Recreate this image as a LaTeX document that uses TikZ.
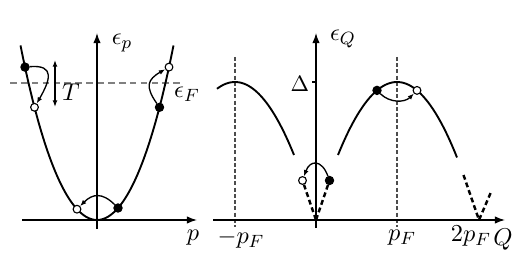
\documentclass[tikz,border=0pt]{standalone}
\usepackage{amsmath}
\usepackage{tikz}
\usetikzlibrary{arrows.meta,positioning}
\usepackage{xcolor}
\begin{document}
\begin{tikzpicture}[x=0.45pt, y=0.45pt, font=\fontsize{11}{13}\selectfont,
  axis/.style={-{Latex[length=4.6pt,width=3.4pt]}, line width=0.6pt},
  band/.style={line width=0.85pt},
  full/.style={circle, draw, fill=black, line width=0.5pt, inner sep=0pt, minimum size=3.7pt},
  empty/.style={circle, draw, fill=white, line width=0.5pt, inner sep=0pt, minimum size=3.5pt},
  hop/.style={-{Latex[length=2.8pt,width=2.2pt]}, line width=0.6pt},
  sound/.style={line width=1.1pt, dash pattern=on 2.2pt off 1.4pt},
  guide/.style={black!70, line width=0.5pt, dash pattern=on 1.8pt off 1pt}]
\useasboundingbox (0,0) rectangle (521,255);
% pixel grid of the reference, origin bottom left
\coordinate (O1) at (97,35); \coordinate (O2) at (316,35);
% left panel: quasiparticle band
\draw[gray, line width=0.5pt, dash pattern=on 3pt off 1.9pt] (10,172) -- (180,172);
\draw[band] plot[domain=-7.65:7.65, samples=60, smooth] ({97+10*\x},{35+2.69*\x*\x+0.005*\x*\x*\x*\x});
\draw[axis] (22,35) -- (197,35);
\draw[axis] (97,26) -- (97,222);
% right panel: excitation branches
\foreach \xq in {235, 397} {\draw[guide] (\xq,198) -- (\xq,28);}
\draw[band] plot[domain=217:294, samples=40] (\x,{173-0.02097*(\x-235)*(\x-235)});
\draw[band] plot[domain=338:457, samples=50] (\x,{173-0.02097*(\x-397)*(\x-397)});
\draw[axis] (213,35) -- (505,35);
\draw[axis] (316,27) -- (316,222);
\draw[line width=0.6pt] (312,173) -- (316,173);
% dots: filled = particle before, open = after
\foreach \n/\px/\py in {fa/25/187.9, fb/159.5/147.7, fc/118/47, fd/377/164.6, fe/329.5/74.5}
  {\node[full] (\n) at (\px,\py) {};}
\foreach \n/\px/\py in {oa/34.5/147.7, ob/169/187.9, oc/77/45.8, od/417/164.6, oe/302.5/74.5}
  {\node[empty] (\n) at (\px,\py) {};}
% linear (sound) branches
\coordinate (K) at (479,35); \coordinate (V1) at (463.5,80); \coordinate (V2) at (491,63);
\draw[sound] (oe) -- (O2); \draw[sound] (fe) -- (O2);
\draw[sound] (V1) -- (K) -- (V2);
% transitions
\draw[hop] (fa) to[out=5, in=60, looseness=1.8] (oa);
\draw[hop] (fb) to[out=125, in=210, looseness=1.5] (ob);
\draw[hop] (fc) to[out=135, in=45, looseness=1.3] (oc);
\draw[hop] (fd) to[out=-45, in=-135] (od);
\draw[hop] (fe) to[out=110, in=70, looseness=1.9] (oe);
\coordinate (Ta) at (55,195); \coordinate (Tb) at (55,148);
\draw[line width=0.6pt, {Latex[length=3pt,width=2.2pt]}-{Latex[length=3pt,width=2.2pt]}] (Ta) -- (Tb);
% labels
\node (lep) at (122,212) {$\epsilon_p$};
\node (lp) at (193,17) {$p$};
\node (leF) at (187,161) {$\epsilon_F$};
\node (lT) at (71,163) {$T$};
\node (leQ) at (343,216) {$\epsilon_Q$};
\node[font=\normalsize] (lD) at (300,171) {$\Delta$};
\node (lmpF) at (241,16) {$-p_F$};
\node (lpF) at (402,17) {$p_F$};
\node (l2pF) at (471,19) {$2p_F$};
\node (lQ) at (503,15) {$Q$};
\end{tikzpicture}
\end{document}
